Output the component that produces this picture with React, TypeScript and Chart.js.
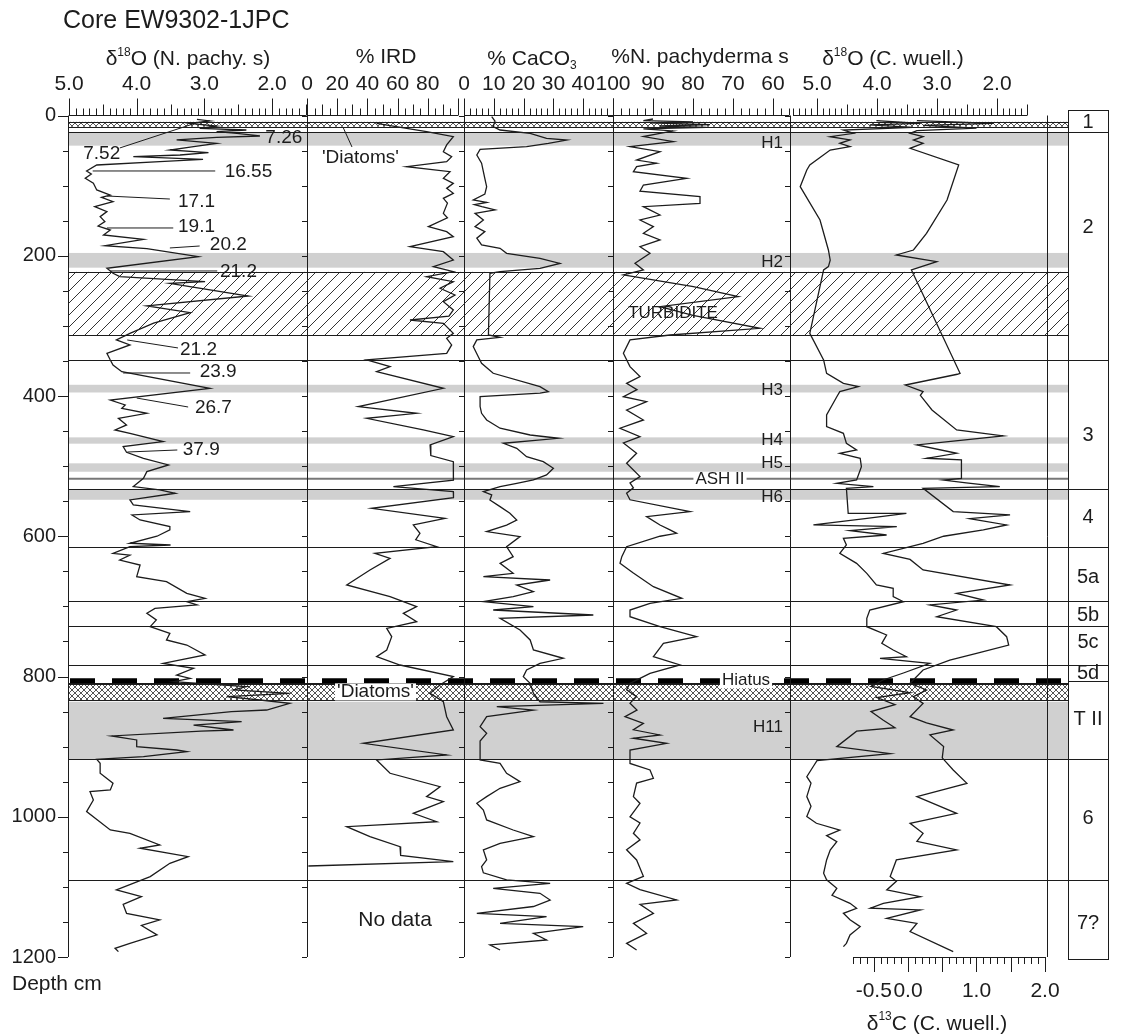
import React, { useEffect, useRef } from 'react';
import { Chart, registerables } from 'chart.js';
Chart.register(...registerables);

const FONT = '"Liberation Sans", Arial, Helvetica, sans-serif';
const INK = '#1c1c1c';
const GRAY = '#d0d0d0';

type Pair = [number, number]; // [depth cm, value]

// ---------------- DATA ----------------
const depthTickLabels = [0, 200, 400, 600, 800, 1000, 1200];

const npachyD18O: Pair[] = [
  [5.5,3.11],[7.8,2.92],[11.2,3.21],[15,2.82],[18.3,3.07],[20.7,2.38],[23,2.82],[25.4,2.52],[29.2,2.18],[31.1,2.82],
  [34.9,3.41],[39.7,2.82],[44.4,3.16],[49.2,3.51],[53,2.94],[56.3,3.36],[58.7,4.05],[62.5,3.02],[65.8,3.66],[70.6,4.59],
  [79.1,4.74],[83.4,4.67],[89.6,4.76],[96.7,4.64],[106.2,4.59],[113.4,4.39],[116.7,4.52],[122.9,4.35],[130,4.62],[137.1,4.44],
  [144.2,4.54],[151.4,4.47],[157.6,4.57],[163.3,4.39],[170.4,4.49],[176.6,3.9],[185.6,4.47],[189.9,3.85],[201.3,3.09],[217.9,4.44],
  [225,4.35],[229.8,4.25],[237,2.99],[239.3,3.51],[257.4,2.35],[271.6,3.85],[281.1,3.21],[296,3.75],[310.6,4.1],[320.1,4.3],
  [327.2,4.1],[339.1,4.44],[348.6,4.39],[355.8,4.35],[365.3,4.22],[389,2.92],[405.7,4.39],[412.8,4.17],[417.5,4.22],[424.7,3.85],
  [431.8,4.27],[441.3,4.15],[448.4,4.32],[453.2,4.1],[465.1,3.61],[472.2,4.2],[480.3,4.15],[488.8,3.9],[498.3,3.53],[507.8,3.85],
  [517.4,3.9],[529.2,4.05],[534,3.66],[538.7,3.43],[548.2,4.1],[555.4,4.05],[564.9,3.21],[569.6,4.07],[576.8,3.95],[586.3,3.51],
  [591,3.51],[600,3.7],[610,4.1],[612.5,3.5],[614.9,4.1],[624.4,4.35],[627,4.1],[633.9,4.25],[641,3.95],[657.6,4.0],
  [664.8,3.56],[681.4,3.26],[688.5,2.99],[693.3,3.26],[698,3.11],[702.8,3.73],[709.9,3.85],[719.4,3.71],[728.9,3.8],[738.4,3.51],
  [747.9,3.56],[755.1,3.26],[769.3,2.99],[781.2,3.61],[788.3,3.16],[797.9,3.41],[802.6,3.21],[807.4,3.46],[814.5,2.38],[819,2.57],
  [824,1.74],[828.8,2.67],[833.5,2.18],[838.3,1.74],[847.8,2.08],[850,2.6],[859.6,3.61],[864.4,2.45],[869.2,3.16],[876.3,2.57],
  [878,3.05],[884.8,4.37],[890.5,4.0],[900,4.0],[904.8,3.41],[907.2,3.26],[914.3,3.9],[918.1,4.59],[923.8,4.54],[938,4.54],
  [952.3,4.35],[961.8,4.39],[964.2,4.69],[976.1,4.64],[992.7,4.74],[1018.9,4.39],[1023.6,4.1],[1040.2,3.66],[1044.9,3.95],[1056.9,3.24],
  [1066.4,3.51],[1085.4,3.8],[1104.4,4.3],[1113.9,3.93],[1125,4.2],[1137.7,4.15],[1147.1,3.66],[1155,3.93],[1168.5,3.7],[1180.5,4.1],
  [1187.6,4.32],[1192.3,4.27],
];

const irdPct: Pair[] = [
  [11.2,46.1],[18.3,66],[23,79.2],[30.2,96.9],[42,92.5],[51.6,90.3],[58.7,95.8],[65.8,92.5],[73,66],[80.1,94.7],
  [89.6,90.3],[96.7,96.9],[103.9,92.5],[111,96.9],[118.1,90.3],[125,93],[139.5,90.3],[146,93],[158.5,80.4],[165.6,92.5],
  [172.8,96.9],[187.1,68.2],[194.2,90.3],[206.2,96.9],[215.5,83.7],[222.7,96.9],[229.8,79.2],[237,96.9],[246.4,88.1],[256,98],
  [265.5,90.3],[277.3,96.9],[286,94],[291.6,68.2],[296.3,90.3],[310.6,96.9],[317.7,92.5],[327.2,95.8],[339.1,92.5],[348.6,39.5],
  [358.1,55],[365.3,46.1],[389,90.3],[415.2,34],[424.7,72.6],[431.8,39.5],[448.4,77],[458,96.9],[469.8,81.5],[485,82],
  [493.6,96.9],[500.7,96.9],[520,97],[529.2,57.2],[536.4,96.9],[545,97],[560.1,42.8],[574.4,91.4],[583.9,70.4],[595.8,74.8],
  [605,72],[614.9,85.9],[624.4,45],[631.5,55],[648.1,41.7],[669.5,26.3],[686.2,55],[700.4,72.6],[709.9,63.8],[721.8,72.6],
  [731.3,52.8],[743.2,56.1],[762.2,52.8],[771.7,46.1],[783.6,61.6],[800.2,96.9],[812,88],[824,81.5],[835.9,90.3],[857.3,92.5],
  [876.3,96.9],[895.3,37.3],[911.9,92.5],[919,46.1],[938,55],[957.1,88.1],[971.3,79.2],[978.5,90.3],[995.1,70.4],[1007,85.9],
  [1014.1,26.3],[1028.4,41.7],[1042.6,61.6],[1055,62],[1064,96.9],[1070.2,0.9],
];

const caco3Pct: Pair[] = [
  [1.7,9.3],[8,10.4],[15.9,9.8],[20.7,12.1],[25.4,22.2],[32.6,27.7],[35,34.5],[39.7,28.3],[44.4,21],[48.2,5.4],
  [56.3,4.3],[68,5.9],[80.1,6.5],[90,7],[101.5,7.6],[112,7],[120.5,3.1],[124,7.6],[127,3.5],[130,6],
  [134.7,10.4],[139.5,3.7],[149,6.5],[158.5,3.7],[165.6,7],[175,4.3],[184.6,5.9],[189.4,12.1],[196.5,14.3],[203.7,25.5],
  [211,32.2],[218,25.5],[222.7,12.1],[225.1,8.7],[313,8.2],[316.3,12.1],[320.1,4.3],[329.6,3.1],[344,4.8],[353.4,5.9],
  [367.6,9.8],[386.6,25.5],[393.8,28.3],[396,25.5],[400.9,5.4],[415,5.4],[424.7,5.9],[434.2,7.6],[446,12.1],[455.6,22.2],
  [460.3,31.7],[467.4,13.2],[474.6,17.7],[486.5,21],[493.6,26.6],[503.1,30],[512.6,27.7],[519.7,23.3],[524.5,17.7],[529.2,12.1],
  [536.4,6.5],[541,9.3],[548.2,8.7],[557.7,12.1],[567.2,15.4],[576.8,17.7],[584,14.3],[593.4,7.6],[600.5,18.8],[614.9,14.3],
  [629.1,16.5],[638.6,12.1],[652.9,16.5],[657.6,6.5],[662.4,28.9],[669.5,17.7],[679,23.3],[686.2,16.5],[693.3,6.5],[700.4,23.3],
  [705.2,9.8],[712.3,43.4],[717.1,12.1],[733.7,18.8],[747.9,22.2],[762.2,23.3],[774,33.3],[781.2,25.5],[790.7,21],[800.2,19.9],
  [809.7,22.2],[824,23.3],[836,25.5],[838.3,46.8],[843,11],[847.8,23.3],[857.3,7.6],[871.5,5.4],[881,7.6],[892,5.4],
  [904.8,5.4],[919,5.4],[923.8,12.1],[938,14.3],[950,18.8],[959.4,12.1],[971.3,7.6],[980.8,4.3],[990.4,6.5],[1004.6,7.6],
  [1018.9,16.5],[1028.4,23.3],[1037.9,12.1],[1047.4,6.5],[1061.6,7.6],[1071.1,5.9],[1080,6.5],[1090,14.3],[1094.9,28.9],[1102,9.8],
  [1109.1,25.5],[1118.7,28.9],[1128,23.3],[1137.7,4.3],[1142.4,27.7],[1152,12.1],[1156.7,40],[1166.2,23.3],[1175.7,27.7],[1182.8,8.7],
  [1190,12.1],
];

const npachyPct: Pair[] = [
  [5,90],[7.4,92.4],[9,80],[10.5,90.75],[13,75.75],[15,88.25],[17,76.6],[19,92.4],[22,85],[25.4,88.25],
  [30,92.4],[37.3,84.9],[44.4,95.75],[51.6,88.25],[63.5,94.1],[68,89.1],[73,94.1],[80.1,94.9],[89.6,81.6],[99.1,92.4],
  [108,93.25],[115.7,78.25],[125.2,78.25],[130,92.4],[141.9,88.25],[149,93.25],[158.5,89.9],[168,92.4],[177.5,88.25],[187.1,93.25],
  [196.5,90.75],[210.8,94.5],[220.3,92.4],[227.4,97.4],[244.1,79.9],[258.3,68.7],[272.6,88.25],[285,80],[303.5,63.25],[313,85.75],
  [320.1,95.75],[339.1,97.4],[358.1,95.75],[372.4,93.25],[381.9,96.6],[391,94],[400.9,97.4],[408,91.6],[420,96.6],[434.2,92.4],
  [446,98.25],[457.9,93.25],[467,97.4],[481.7,94.1],[496,96.6],[515,93.25],[524,95.75],[531,94.9],[538.7,96.6],[548,95.75],
  [564.9,80.75],[572,91.6],[584,88.25],[591,85.75],[595.8,84.1],[600,88.25],[614.9,96.6],[629.1,97.8],[638.6,98.25],[652,95],
  [671.9,89.9],[688.5,82.8],[695.6,90.75],[705.2,95.75],[714.7,95.75],[729,88.25],[743.2,79.1],[752.7,87.4],[771.7,89.9],[783.6,83.25],
  [795.5,90.75],[809.7,95.75],[819,96.6],[828.8,94.1],[838,95.75],[848,94],[857.3,97],[866.8,92.4],[876,94.9],[883.4,88.25],
  [888,94.9],[895.3,86.6],[904.8,95.75],[924,95.75],[933.3,90.75],[945.2,89.9],[952,94.1],[971.3,94.9],[981,93.25],[1000,95.75],
  [1009,93.25],[1023.6,94.9],[1033,93.25],[1047,96.6],[1061.6,94.1],[1085,92.4],[1094.9,96.6],[1104,93.25],[1118.7,84.1],[1125,93.25],
  [1137.7,89.9],[1152,94.9],[1166.2,91.6],[1180.5,96.6],[1190,94.1],
];

const cwuellD18O: Pair[] = [
  [7.4,4.01],[11.2,3.28],[13.5,4.12],[17,3.4],[20.7,4.56],[25.4,4.39],[30.2,4.78],[34.9,4.45],[39.7,4.62],[44.4,4.45],
  [49.2,4.78],[70.6,5.12],[77.7,5.17],[101.5,5.28],[149,4.95],[191.8,4.81],[206.2,4.78],[215.5,4.81],[220.3,4.89],[310.6,5.12],
  [348.6,4.89],[367.6,4.84],[381.9,4.56],[386.6,4.31],[393.8,4.62],[401,4.67],[427,4.84],[443.7,4.84],[453.2,4.56],[467.4,4.51],
  [477,4.34],[481.7,4.62],[488.8,4.28],[500.7,4.26],[519.7,4.34],[524.5,4.67],[529.2,4.06],[531.6,4.51],[567.3,4.48],[567.3,3.51],
  [575,4.2],[583.9,5.06],[586.3,3.67],[592,4.45],[598.2,3.84],[603,4.56],[612.5,4.51],[624.4,4.62],[638.6,4.34],[652.9,4.17],
  [669.5,4.01],[674.3,3.73],[686.2,3.73],[693.3,3.56],[705.2,4.12],[717.1,4.17],[729,4.17],[740.8,3.84],[752.7,3.92],[762.2,3.73],
  [771.7,3.51],[774.1,3.95],[781.2,3.12],[795,3.56],[805,3.9],[814,4.1],[823,3.45],[830,4.0],[840,3.7],[850,4.1],
  [862,3.9],[873,3.7],[878,4.34],[900,4.67],[910,3.78],[920,5.0],[928,5.06],[942.8,5.17],[952,5.1],[971.3,5.17],
  [985,5.1],[999.8,5.17],[1009.3,5.01],[1018.9,4.62],[1027,4.84],[1035.5,4.67],[1047.4,4.78],[1061.6,4.84],[1080.6,4.89],[1090,4.84],
  [1102,4.67],[1112,4.75],[1123.4,4.45],[1130.5,4.34],[1137.7,4.56],[1147,4.45],[1156.7,4.28],[1168.5,4.45],[1180.5,4.51],[1185.2,4.56],
];

const cwuellD13C: Pair[] = [
  [7.4,0.13],[11.2,1.25],[14,0.22],[18,1.0],[21.6,0.13],[25.4,0.03],[30.2,0.22],[35,0.08],[39.7,0.22],[46.8,0.03],
  [70.6,0.74],[120.5,0.57],[168,0.27],[191.8,0.08],[198.9,-0.17],[208.4,0.42],[220.3,0.05],[367.6,0.76],[369,0.72],[384.3,-0.04],
  [393.8,0.22],[399,0.18],[420,0.35],[448.4,0.71],[457,1.39],[469.8,0.13],[481.7,0.71],[488.8,0.27],[491.2,0.78],[517.4,0.78],
  [520,0.52],[524,0.85],[529.2,1.34],[531.6,0.22],[564.9,0.66],[569.6,1.49],[575,0.9],[583.9,1.44],[591,1.1],[600,0.52],
  [610.1,0.22],[624.4,-0.36],[633,0.03],[648.1,0.22],[669.5,1.49],[681.4,0.71],[691,1.1],[698,0.32],[705.2,0.71],[714.7,0.42],
  [729,1.29],[743.2,1.44],[755.1,1.47],[767,1.0],[776.5,0.61],[790.7,0.22],[809.7,0.03],[819.2,0.27],[828.8,0.08],[838.3,0.22],
  [857.3,0.03],[866,0.27],[876.3,0.66],[883.4,0.32],[900,0.52],[916,0.5],[933.3,0.66],[952.3,0.86],[971.3,0.13],[995.1,0.71],
  [1009.3,0.03],[1023.6,0.22],[1035,0.13],[1047.4,0.71],[1061.6,-0.17],[1085.4,-0.26],[1092,-0.17],[1104.4,-0.31],[1113.9,0.18],[1123.4,-0.36],
  [1130.5,-0.55],[1132.9,0.18],[1144.8,-0.31],[1152,0.13],[1163.8,0.03],[1192.3,0.66],
];

// radiocarbon ages (δ18O N. pachy. units, depth)
const ageLabels = [
  { t: '7.26', d: 32.1, v: 2.10 }, { t: '7.52', d: 54, v: 4.79 }, { t: '16.55', d: 80.6, v: 2.70 },
  { t: '17.1', d: 123.4, v: 3.39 }, { t: '19.1', d: 159, v: 3.39 }, { t: '20.2', d: 184.7, v: 2.92 },
  { t: '21.2', d: 223.2, v: 2.77 }, { t: '21.2', d: 334.4, v: 3.36 }, { t: '23.9', d: 365.8, v: 3.07 },
  { t: '26.7', d: 417.1, v: 3.14 }, { t: '37.9', d: 477, v: 3.32 },
];
const ageLeaders: Pair[][] = [
  [[46.3,4.25],[12.1,3.17]], [[79.1,4.65],[79.1,2.84]], [[114.8,4.44],[119.1,3.51]], [[160.4,4.44],[160.4,3.46]],
  [[188.9,3.51],[186.1,3.07]], [[221.7,4.39],[221.7,2.81]], [[320.1,4.14],[331.5,3.39]], [[367.2,4.20],[367.2,3.21]],
  [[402.9,4.0],[415.7,3.24]], [[479.9,4.14],[477,3.40]],
];
const diatomLeader: Pair[] = [[16.4,23.8],[44.9,29.8]]; // IRD units

const eventLabels = [
  { t: 'H1', d: 39.2 }, { t: 'H2', d: 208.9 }, { t: 'H3', d: 391.4 }, { t: 'H4', d: 462.7 },
  { t: 'H5', d: 495.5 }, { t: 'H6', d: 544 }, { t: 'H11', d: 872 },
];

const grayBands: Pair[] = [[23.5,43],[196,217],[384,395],[459,468],[496,508],[534,548],[836,918]];
const turbiditeBand: Pair = [223, 313];
const crossBands: Pair[] = [[9,16],[810,834]];
const zoneBounds = [23, 349, 532, 615, 693, 728, 784, 806, 918, 1090];
const zoneNames = ['1', '2', '3', '4', '5a', '5b', '5c', '5d', 'T II', '6', '7?'];
const zoneLabelDepths = [9.3, 160.4, 455.6, 572.6, 658.2, 712.3, 752.2, 795, 862, 1001.8, 1151.5];
const hiatusDepth = 806;
const ashDepth = 518;

// ---------------- LAYOUT ----------------
const CW = 1122, CH = 1035;
const AREA = { left: 68, right: 1047, top: 115.5, bottom: 957 };
const PANELS = [
  { id: 'x1', a: 68, b: 307, va: 5.0148, vb: 1.4845 },
  { id: 'x2', a: 307, b: 464, va: 0, vb: 103.97 },
  { id: 'x3', a: 464, b: 613, va: 0, vb: 50 },
  { id: 'x4', a: 613, b: 790, va: 100, vb: 55.75 },
  { id: 'x5', a: 790, b: 1047, va: 5.45, vb: 1.1667 },
  { id: 'x6', a: 790, b: 1047, va: -1.7226, vb: 2.0292 },
];
const topAxes = [
  { id: 'x1', from: 5.0, to: 1.5, minor: 0.1, mid: 0.5, major: 1, labels: [5, 4, 3, 2], dec: 1 },
  { id: 'x2', from: 0, to: 100, minor: 5, mid: 10, major: 20, labels: [0, 20, 40, 60, 80], dec: 0 },
  { id: 'x3', from: 0, to: 50, minor: 2, mid: 10, major: 10, labels: [0, 10, 20, 30, 40], dec: 0 },
  { id: 'x4', from: 100, to: 56, minor: 2, mid: 10, major: 10, labels: [100, 90, 80, 70, 60], dec: 0 },
  { id: 'x5', from: 5.4, to: 1.5, minor: 0.1, mid: 0.5, major: 1, labels: [5, 4, 3, 2], dec: 1 },
];
const bottomAxis = { id: 'x6', from: -0.8, to: 2.0, minor: 0.1, mid: 0.5, major: 0.5, labels: [-0.5, 0, 1, 2], dec: 1 };

function scaleFor(p: any) {
  const s = (p.vb - p.va) / (p.b - p.a);
  const vL = p.va + (AREA.left - p.a) * s;
  const vR = p.va + (AREA.right - p.a) * s;
  return s < 0
    ? { type: 'linear', display: false, reverse: true, min: vR, max: vL }
    : { type: 'linear', display: false, min: vL, max: vR };
}

const isMult = (v: number, m: number) => Math.abs(v / m - Math.round(v / m)) < 1e-6;
const f = (size: number) => `${size}px ${FONT}`;

let hatchPat: any = null;
let crossPat: any = null;
function ensurePatterns(ctx: CanvasRenderingContext2D) {
  if (!hatchPat) {
    const c = document.createElement('canvas'); c.width = 12; c.height = 12;
    const g = c.getContext('2d')!;
    g.strokeStyle = '#333'; g.lineWidth = 1;
    [[-1, 1, 1, -1], [0, 12, 12, 0], [11, 13, 13, 11]].forEach(([a, b, cc, d]) => { g.beginPath(); g.moveTo(a, b); g.lineTo(cc, d); g.stroke(); });
    hatchPat = ctx.createPattern(c, 'repeat');
  }
  if (!crossPat) {
    const c = document.createElement('canvas'); c.width = 6; c.height = 6;
    const g = c.getContext('2d')!;
    g.fillStyle = '#fff'; g.fillRect(0, 0, 6, 6);
    g.strokeStyle = '#555'; g.lineWidth = 1;
    [[-1, 1, 1, -1], [0, 6, 6, 0], [5, 7, 7, 5], [0, 0, 6, 6], [5, -1, 7, 1], [-1, 5, 1, 7]].forEach(([a, b, cc, d]) => { g.beginPath(); g.moveTo(a, b); g.lineTo(cc, d); g.stroke(); });
    crossPat = ctx.createPattern(c, 'repeat');
  }
}

function hline(ctx: CanvasRenderingContext2D, x0: number, x1: number, y: number) {
  const yy = Math.round(y) + 0.5;
  ctx.beginPath(); ctx.moveTo(x0, yy); ctx.lineTo(x1, yy); ctx.stroke();
}
function vline(ctx: CanvasRenderingContext2D, x: number, y0: number, y1: number) {
  const xx = Math.round(x) + 0.5;
  ctx.beginPath(); ctx.moveTo(xx, y0); ctx.lineTo(xx, y1); ctx.stroke();
}

function rich(ctx: CanvasRenderingContext2D, parts: any[], cx: number, cy: number, size: number) {
  const small = Math.round(size * 0.55);
  let w = 0;
  parts.forEach(p => { ctx.font = f(p.sup || p.sub ? small : size); w += ctx.measureText(p.t).width; });
  let x = cx - w / 2;
  const base = cy + size * 0.36;
  ctx.textAlign = 'left'; ctx.textBaseline = 'alphabetic';
  ctx.fillStyle = INK;
  parts.forEach(p => {
    ctx.font = f(p.sup || p.sub ? small : size);
    const dy = p.sup ? -size * 0.45 : p.sub ? size * 0.2 : 0;
    ctx.fillText(p.t, x, base + dy);
    x += ctx.measureText(p.t).width;
  });
}

function text(ctx: CanvasRenderingContext2D, t: string, x: number, y: number, size: number, align: CanvasTextAlign = 'center', whiteBg = false) {
  ctx.font = f(size);
  ctx.textAlign = align; ctx.textBaseline = 'middle';
  if (whiteBg) {
    const w = ctx.measureText(t).width;
    const left = align === 'center' ? x - w / 2 : align === 'right' ? x - w : x;
    ctx.fillStyle = '#fff';
    ctx.fillRect(left - 2, y - size * 0.45, w + 4, size * 0.9);
  }
  ctx.fillStyle = INK;
  ctx.fillText(t, x, y);
}

const decor = {
  id: 'decor',
  beforeDatasetsDraw(chart: any) {
    const ctx: CanvasRenderingContext2D = chart.ctx;
    ensurePatterns(ctx);
    const ca = chart.chartArea;
    const Y = (d: number) => chart.scales.y.getPixelForValue(d);
    const L = ca.left, bandR = ca.right + 21, boxL = ca.right + 21, boxR = ca.right + 61;
    ctx.save();
    ctx.fillStyle = GRAY;
    grayBands.forEach(([a, b]) => ctx.fillRect(L, Y(a), bandR - L, Y(b) - Y(a)));
    ctx.strokeStyle = INK; ctx.lineWidth = 1;
    {
      const t0 = Y(turbiditeBand[0]), t1 = Y(turbiditeBand[1]);
      ctx.fillStyle = hatchPat; ctx.fillRect(L, t0, bandR - L, t1 - t0);
      hline(ctx, L, bandR, t0); hline(ctx, L, bandR, t1);
    }
    crossBands.forEach(([a, b]) => {
      const t0 = Y(a), t1 = Y(b);
      ctx.fillStyle = crossPat; ctx.fillRect(L, t0, bandR - L, t1 - t0);
      hline(ctx, L, bandR, t0); hline(ctx, L, bandR, t1);
    });
    ctx.strokeStyle = '#777'; ctx.lineWidth = 2;
    ctx.beginPath(); ctx.moveTo(L, Y(ashDepth)); ctx.lineTo(bandR, Y(ashDepth)); ctx.stroke();
    ctx.strokeStyle = INK; ctx.lineWidth = 1;
    zoneBounds.forEach(d => { if (d !== hiatusDepth) hline(ctx, L, boxR, Y(d)); });
    hline(ctx, L, bandR, Y(hiatusDepth) + 2);
    ctx.save();
    ctx.lineWidth = 5; ctx.strokeStyle = '#000'; ctx.setLineDash([25, 17]);
    ctx.beginPath(); ctx.moveTo(L + 2, Y(hiatusDepth)); ctx.lineTo(bandR, Y(hiatusDepth)); ctx.stroke();
    ctx.restore();
    ctx.lineWidth = 1;
    const bt = ca.top - 5.5, bb = ca.bottom + 2;
    ctx.strokeRect(Math.round(boxL) + 0.5, Math.round(bt) + 0.5, boxR - boxL, Math.round(bb - bt));
    hline(ctx, boxL, boxR, Y(hiatusDepth));
    const borders = [68, 307, 464, 613, 790, 1047];
    borders.forEach((bx, i) => {
      vline(ctx, bx, ca.top, ca.bottom);
      if (i === borders.length - 1) return;
      for (let d = 0; d <= 1200; d += 50) {
        const len = i === 0 && depthTickLabels.includes(d) ? 10 : 5;
        const yy = Math.round(Y(d)) + 0.5;
        ctx.beginPath(); ctx.moveTo(bx - len, yy); ctx.lineTo(bx, yy); ctx.stroke();
      }
    });
    ctx.restore();
  },
  afterDatasetsDraw(chart: any) {
    const ctx: CanvasRenderingContext2D = chart.ctx;
    const ca = chart.chartArea;
    const Y = (d: number) => chart.scales.y.getPixelForValue(d);
    const X = (id: string, v: number) => chart.scales[id].getPixelForValue(v);
    ctx.save();
    ctx.strokeStyle = INK; ctx.fillStyle = INK; ctx.lineWidth = 1;
    const top = ca.top;
    topAxes.forEach(ax => {
      const n = Math.round(Math.abs(ax.to - ax.from) / ax.minor);
      const dir = Math.sign(ax.to - ax.from);
      hline(ctx, X(ax.id, ax.from), X(ax.id, ax.to), top - 0.5);
      for (let i = 0; i <= n; i++) {
        const v = ax.from + dir * i * ax.minor;
        const len = isMult(v, ax.major) ? 17 : isMult(v, ax.mid) ? 11 : 7;
        vline(ctx, X(ax.id, v), top - len, top);
      }
      ax.labels.forEach(v => text(ctx, v.toFixed(ax.dec), X(ax.id, v), top - 31, 21));
    });
    {
      const ax = bottomAxis; const bot = ca.bottom;
      const n = Math.round(Math.abs(ax.to - ax.from) / ax.minor);
      hline(ctx, X(ax.id, ax.from), X(ax.id, ax.to), bot);
      for (let i = 0; i <= n; i++) {
        const v = ax.from + i * ax.minor;
        const len = isMult(v, ax.major) ? 15 : 7;
        vline(ctx, X(ax.id, v), bot, bot + len);
      }
      ax.labels.forEach(v => text(ctx, v.toFixed(ax.dec), X(ax.id, v), bot + 34, 21));
      rich(ctx, [{ t: 'δ' }, { t: '13', sup: true }, { t: 'C (C. wuell.)' }], 937, bot + 65, 21);
    }
    depthTickLabels.forEach(d => text(ctx, String(d), ca.left - 12, Y(d), 20, 'right'));
    text(ctx, 'Depth cm', 12, ca.bottom + 27, 21, 'left');
    text(ctx, 'Core EW9302-1JPC', 63, 21, 25, 'left');
    const ty = top - 58;
    rich(ctx, [{ t: 'δ' }, { t: '18', sup: true }, { t: 'O (N. pachy. s)' }], 188, ty, 21);
    text(ctx, '% IRD', 386, ty, 21);
    rich(ctx, [{ t: '% CaCO' }, { t: '3', sub: true }], 532, ty, 21);
    text(ctx, '%N. pachyderma s', 700, ty, 21);
    rich(ctx, [{ t: 'δ' }, { t: '18', sup: true }, { t: 'O (C. wuell.)' }], 893, ty, 21);
    ageLabels.forEach(a => text(ctx, a.t, X('x1', a.v), Y(a.d), 19, 'left'));
    eventLabels.forEach(e => text(ctx, e.t, X('x4', 57.5), Y(e.d), 17, 'right'));
    text(ctx, 'ASH II', X('x4', 73.25), Y(ashDepth + 1.5), 17, 'center', true);
    text(ctx, 'Hiatus', X('x4', 66.75), Y(hiatusDepth), 17, 'center', true);
    text(ctx, 'TURBIDITE', X('x4', 85), Y(281.6), 17, 'center');
    text(ctx, "'Diatoms'", X('x2', 9.9), Y(60.6), 19, 'left');
    text(ctx, "'Diatoms'", X('x2', 19.9), Y(822), 19, 'left', true);
    text(ctx, 'No data', X('x2', 58.3), Y(1147), 21, 'center');
    zoneNames.forEach((z, i) => text(ctx, z, ca.right + 41, Y(zoneLabelDepths[i]), 20));
    ctx.restore();
  },
};

const lineDs = (data: Pair[], xAxisID: string, width = 1.3) => ({
  data: data.map(([d, v]) => ({ x: v, y: d })),
  xAxisID, yAxisID: 'y', showLine: true, pointRadius: 0, borderColor: INK, borderWidth: width, fill: false, tension: 0,
});

export default function App() {
  const ref = useRef<HTMLCanvasElement>(null);
  useEffect(() => {
    const canvas = ref.current!;
    const scales: any = { y: { type: 'linear', display: false, reverse: true, min: 0, max: 1200 } };
    PANELS.forEach(p => { scales[p.id] = scaleFor(p); });
    const datasets: any[] = [
      lineDs(npachyD18O, 'x1'),
      lineDs(irdPct, 'x2'),
      lineDs(caco3Pct, 'x3'),
      lineDs(npachyPct, 'x4'),
      lineDs(cwuellD18O, 'x5'),
      lineDs(cwuellD13C, 'x6'),
      ...ageLeaders.map(seg => lineDs(seg, 'x1', 1)),
      lineDs(diatomLeader, 'x2', 1),
    ];
    const chart = new Chart(canvas, {
      type: 'scatter',
      data: { datasets },
      options: {
        responsive: false,
        animation: false,
        events: [],
        layout: { padding: { left: AREA.left, right: CW - AREA.right, top: AREA.top, bottom: CH - AREA.bottom } },
        plugins: { legend: { display: false }, tooltip: { enabled: false } },
        scales,
      } as any,
      plugins: [decor as any],
    });
    return () => chart.destroy();
  }, []);
  return (
    <div style={{ position: 'absolute', left: 0, top: 0, width: CW, height: CH, background: '#fff' }}>
      <canvas ref={ref} width={CW} height={CH} style={{ width: CW, height: CH, display: 'block' }} />
    </div>
  );
}
